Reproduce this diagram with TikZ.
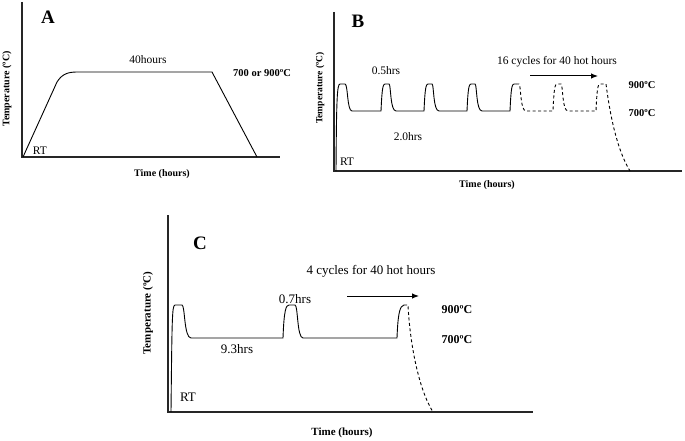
\documentclass[tikz,border=0pt]{standalone}
\usepackage{fontspec}
\setmainfont{Liberation Serif}
\usetikzlibrary{arrows.meta}
\tikzset{
    axis/.style={line width=1.1pt, black!85},
    profile/.style={line width=0.9pt},
    hotpart/.style={line width=0.9pt, dash pattern=on 3pt off 2.5pt},
    note/.style={font=\fontsize{11.5}{13}\selectfont, inner sep=0pt},
    temp/.style={font=\bfseries\fontsize{10.5}{12}\selectfont, inner sep=0pt},
    panel/.style={font=\bfseries\fontsize{19}{21}\selectfont, inner sep=0pt},
    ytitle/.style={font=\bfseries\fontsize{10}{12}\selectfont, rotate=90, inner sep=0pt},
    xtitle/.style={font=\bfseries\fontsize{10}{12}\selectfont, inner sep=0pt},
    arrow/.style={-{Latex[length=7pt,width=5.5pt]}, line width=1pt}
}
\begin{document}
\begin{tikzpicture}[x=1pt, y=-1pt]
    \useasboundingbox (0,0) rectangle (685,441);

    % Panel A
    \draw[axis] (22,2) -- (22,157) -- (280,157);
    \draw[profile] (23,157) -- (57,82) .. controls (62,74) and (68,72) .. (77,72)
        -- (212,72) -- (257,157);
    \node[panel] (A) at (48,17) {A};
    \node[note] (A-time) at (148,60) {40hours};
    \node[temp] (A-temp) at (262,73) {700 or 900ºC};
    \node[note] (A-rt) at (40,151) {RT};
    \node[ytitle] (A-ylab) at (7,89) {Temperature (ºC)};
    \node[xtitle] (A-xlab) at (162,174) {Time (hours)};

    % Panel B
    \draw[axis] (334,12) -- (334,171) -- (682,171);
    \draw[profile] (336,171) .. controls (336.5,100) and (337,84) .. (340,84) -- (345,84)
        .. controls (348,84) and (347,111) .. (352,111)
        foreach \x in {381,424,467} {
            -- (\x,111) .. controls (\x+1,88) and (\x+2,84) .. (\x+4,84) -- (\x+8,84)
            .. controls (\x+10,84) and (\x+9,111) .. (\x+15,111)
        }
        -- (510,111) .. controls (511,88) and (512,84) .. (514,84) -- (516,84);
    \draw[hotpart] (516,84) -- (519,84) .. controls (521,84) and (520,111) .. (526,111)
        foreach \x in {553} {
            -- (\x,111) .. controls (\x+1,88) and (\x+2,84) .. (\x+4,84) -- (\x+8,84)
            .. controls (\x+10,84) and (\x+9,111) .. (\x+15,111)
        }
        -- (596,111) .. controls (597,88) and (598,84) .. (600,84) -- (606,84)
        .. controls (610,115) and (617,150) .. (630,171);
    \node[panel] (B) at (358,21) {B};
    \node[note] (B-top) at (386,71) {0.5hrs};
    \node[note] (B-low) at (408,137) {2.0hrs};
    \node[note] (B-cyc) at (557,62) {16 cycles for 40 hot hours};
    \coordinate (B-arr-s) at (530,76);
    \coordinate (B-arr-e) at (598,76);
    \draw[arrow] (B-arr-s) -- (B-arr-e);
    \node[temp] (B-hi) at (642,85) {900ºC};
    \node[temp] (B-lo) at (642,113) {700ºC};
    \node[note] (B-rt) at (347,162) {RT};
    \node[ytitle, font=\bfseries\fontsize{9.5}{11}\selectfont] (B-ylab) at (320,88) {Temperature (ºC)};
    \node[xtitle] (B-xlab) at (487,185) {Time (hours)};

    % Panel C
    \draw[axis] (168,215) -- (168,412) -- (533,412);
    \draw[profile] (171,412) .. controls (172,320) and (172,305) .. (175,305) -- (182,305)
        .. controls (185,305) and (184,338) .. (191,338) -- (283,338)
        .. controls (284,310) and (286,305) .. (289,305) -- (295,305)
        .. controls (298,305) and (297,338) .. (303,338) -- (397,338)
        .. controls (398,312) and (400,306) .. (404,305);
    \draw[hotpart] (404,305) -- (408,305) .. controls (410,345) and (419,390) .. (433,412);
    \node[panel] (C) at (200,243) {C};
    \node[note, font=\fontsize{13}{15}\selectfont] (C-top) at (295,299) {0.7hrs};
    \node[note, font=\fontsize{13}{15}\selectfont] (C-low) at (237,349) {9.3hrs};
    \node[note, font=\fontsize{13}{15}\selectfont] (C-cyc) at (371,271) {4 cycles for 40 hot hours};
    \coordinate (C-arr-s) at (347,296);
    \coordinate (C-arr-e) at (419,296);
    \draw[arrow] (C-arr-s) -- (C-arr-e);
    \node[temp, font=\bfseries\fontsize{12}{14}\selectfont] (C-hi) at (457,310) {900ºC};
    \node[temp, font=\bfseries\fontsize{12}{14}\selectfont] (C-lo) at (457,340) {700ºC};
    \node[note, font=\fontsize{13}{15}\selectfont] (C-rt) at (188,397) {RT};
    \node[ytitle, font=\bfseries\fontsize{11}{13}\selectfont] (C-ylab) at (148,313) {Temperature (ºC)};
    \node[xtitle, font=\bfseries\fontsize{11}{13}\selectfont] (C-xlab) at (342,433) {Time (hours)};
\end{tikzpicture}
\end{document}
